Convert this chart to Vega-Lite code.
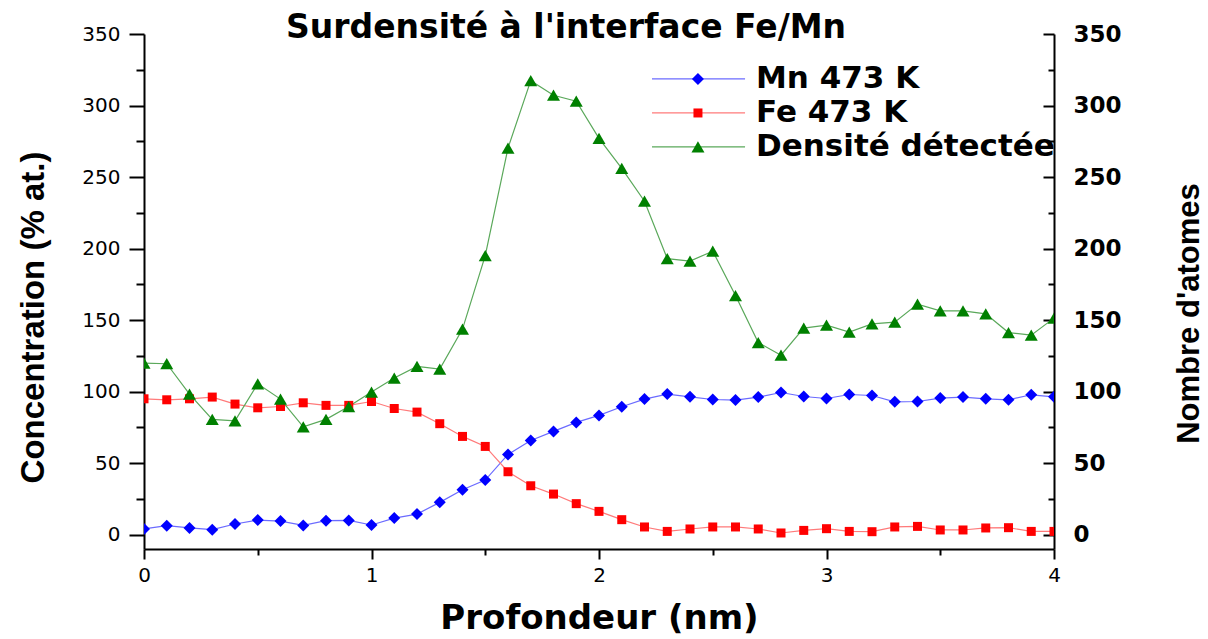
{
  "$schema": "https://vega.github.io/schema/vega-lite/v6.json",
  "width": 910,
  "height": 515,
  "autosize": {"type": "none"},
  "padding": {"left": 144, "top": 34, "right": 154, "bottom": 90},
  "background": "white",
  "title": {"text": "Surdensité à l'interface Fe/Mn", "font": "DejaVu Sans", "fontSize": 33, "fontWeight": "bold", "color": "#000", "anchor": "middle", "dx": -33, "baseline": "alphabetic", "offset": -48},
  "config": {
    "view": {"stroke": null},
    "axis": {"grid": false, "domainColor": "#000", "domainWidth": 2, "tickColor": "#000", "tickWidth": 2, "labelColor": "#000", "titleColor": "#000", "labelFlush": false}
  },
  "datasets": {
    "d": [
      {"x":0,"serie":"Mn 473 K","v":4.0},{"x":0.1,"serie":"Mn 473 K","v":6.3},{"x":0.2,"serie":"Mn 473 K","v":4.7},{"x":0.3,"serie":"Mn 473 K","v":3.5},{"x":0.4,"serie":"Mn 473 K","v":7.5},{"x":0.5,"serie":"Mn 473 K","v":10.2},{"x":0.6,"serie":"Mn 473 K","v":9.5},{"x":0.7,"serie":"Mn 473 K","v":6.5},{"x":0.8,"serie":"Mn 473 K","v":9.8},{"x":0.9,"serie":"Mn 473 K","v":10.0},{"x":1.0,"serie":"Mn 473 K","v":6.8},{"x":1.1,"serie":"Mn 473 K","v":11.6},{"x":1.2,"serie":"Mn 473 K","v":14.4},{"x":1.3,"serie":"Mn 473 K","v":22.6},{"x":1.4,"serie":"Mn 473 K","v":31.4},{"x":1.5,"serie":"Mn 473 K","v":38.2},{"x":1.6,"serie":"Mn 473 K","v":56.1},{"x":1.7,"serie":"Mn 473 K","v":65.9},{"x":1.8,"serie":"Mn 473 K","v":72.2},{"x":1.9,"serie":"Mn 473 K","v":78.5},{"x":2.0,"serie":"Mn 473 K","v":83.4},{"x":2.1,"serie":"Mn 473 K","v":89.4},{"x":2.2,"serie":"Mn 473 K","v":94.8},{"x":2.3,"serie":"Mn 473 K","v":98.3},{"x":2.4,"serie":"Mn 473 K","v":96.4},{"x":2.5,"serie":"Mn 473 K","v":94.5},{"x":2.6,"serie":"Mn 473 K","v":94.1},{"x":2.7,"serie":"Mn 473 K","v":96.2},{"x":2.8,"serie":"Mn 473 K","v":99.4},{"x":2.9,"serie":"Mn 473 K","v":96.6},{"x":3.0,"serie":"Mn 473 K","v":95.2},{"x":3.1,"serie":"Mn 473 K","v":98.0},{"x":3.2,"serie":"Mn 473 K","v":97.3},{"x":3.3,"serie":"Mn 473 K","v":92.9},{"x":3.4,"serie":"Mn 473 K","v":93.1},{"x":3.5,"serie":"Mn 473 K","v":95.5},{"x":3.6,"serie":"Mn 473 K","v":96.2},{"x":3.7,"serie":"Mn 473 K","v":95.0},{"x":3.8,"serie":"Mn 473 K","v":94.3},{"x":3.9,"serie":"Mn 473 K","v":97.8},{"x":4.0,"serie":"Mn 473 K","v":96.4},
      {"x":0,"serie":"Fe 473 K","v":95.0},{"x":0.1,"serie":"Fe 473 K","v":94.3},{"x":0.2,"serie":"Fe 473 K","v":95.0},{"x":0.3,"serie":"Fe 473 K","v":96.2},{"x":0.4,"serie":"Fe 473 K","v":91.3},{"x":0.5,"serie":"Fe 473 K","v":88.7},{"x":0.6,"serie":"Fe 473 K","v":89.6},{"x":0.7,"serie":"Fe 473 K","v":92.2},{"x":0.8,"serie":"Fe 473 K","v":90.4},{"x":0.9,"serie":"Fe 473 K","v":90.4},{"x":1.0,"serie":"Fe 473 K","v":93.1},{"x":1.1,"serie":"Fe 473 K","v":88.2},{"x":1.2,"serie":"Fe 473 K","v":85.7},{"x":1.3,"serie":"Fe 473 K","v":77.6},{"x":1.4,"serie":"Fe 473 K","v":68.7},{"x":1.5,"serie":"Fe 473 K","v":61.7},{"x":1.6,"serie":"Fe 473 K","v":44.0},{"x":1.7,"serie":"Fe 473 K","v":34.2},{"x":1.8,"serie":"Fe 473 K","v":28.4},{"x":1.9,"serie":"Fe 473 K","v":21.7},{"x":2.0,"serie":"Fe 473 K","v":16.3},{"x":2.1,"serie":"Fe 473 K","v":10.5},{"x":2.2,"serie":"Fe 473 K","v":5.4},{"x":2.3,"serie":"Fe 473 K","v":2.3},{"x":2.4,"serie":"Fe 473 K","v":4.0},{"x":2.5,"serie":"Fe 473 K","v":5.4},{"x":2.6,"serie":"Fe 473 K","v":5.4},{"x":2.7,"serie":"Fe 473 K","v":4.0},{"x":2.8,"serie":"Fe 473 K","v":1.2},{"x":2.9,"serie":"Fe 473 K","v":3.0},{"x":3.0,"serie":"Fe 473 K","v":4.2},{"x":3.1,"serie":"Fe 473 K","v":2.3},{"x":3.2,"serie":"Fe 473 K","v":2.1},{"x":3.3,"serie":"Fe 473 K","v":5.4},{"x":3.4,"serie":"Fe 473 K","v":5.8},{"x":3.5,"serie":"Fe 473 K","v":3.3},{"x":3.6,"serie":"Fe 473 K","v":3.3},{"x":3.7,"serie":"Fe 473 K","v":4.7},{"x":3.8,"serie":"Fe 473 K","v":4.9},{"x":3.9,"serie":"Fe 473 K","v":2.3},{"x":4.0,"serie":"Fe 473 K","v":2.3},
      {"x":0,"serie":"Densité détectée","v":120.0},{"x":0.1,"serie":"Densité détectée","v":119.5},{"x":0.2,"serie":"Densité détectée","v":98.3},{"x":0.3,"serie":"Densité détectée","v":80.6},{"x":0.4,"serie":"Densité détectée","v":79.6},{"x":0.5,"serie":"Densité détectée","v":105.5},{"x":0.6,"serie":"Densité détectée","v":94.8},{"x":0.7,"serie":"Densité détectée","v":75.4},{"x":0.8,"serie":"Densité détectée","v":80.6},{"x":0.9,"serie":"Densité détectée","v":89.6},{"x":1.0,"serie":"Densité détectée","v":99.7},{"x":1.1,"serie":"Densité détectée","v":109.5},{"x":1.2,"serie":"Densité détectée","v":117.6},{"x":1.3,"serie":"Densité détectée","v":115.8},{"x":1.4,"serie":"Densité détectée","v":143.7},{"x":1.5,"serie":"Densité détectée","v":195.1},{"x":1.6,"serie":"Densité détectée","v":270.2},{"x":1.7,"serie":"Densité détectée","v":317.4},{"x":1.8,"serie":"Densité détectée","v":307.2},{"x":1.9,"serie":"Densité détectée","v":303.0},{"x":2.0,"serie":"Densité détectée","v":277.1},{"x":2.1,"serie":"Densité détectée","v":256.0},{"x":2.2,"serie":"Densité détectée","v":233.1},{"x":2.3,"serie":"Densité détectée","v":193.0},{"x":2.4,"serie":"Densité détectée","v":191.2},{"x":2.5,"serie":"Densité détectée","v":198.2},{"x":2.6,"serie":"Densité détectée","v":167.2},{"x":2.7,"serie":"Densité détectée","v":134.3},{"x":2.8,"serie":"Densité détectée","v":125.5},{"x":2.9,"serie":"Densité détectée","v":144.4},{"x":3.0,"serie":"Densité détectée","v":146.5},{"x":3.1,"serie":"Densité détectée","v":141.6},{"x":3.2,"serie":"Densité détectée","v":147.4},{"x":3.3,"serie":"Densité détectée","v":148.6},{"x":3.4,"serie":"Densité détectée","v":161.2},{"x":3.5,"serie":"Densité détectée","v":156.5},{"x":3.6,"serie":"Densité détectée","v":156.5},{"x":3.7,"serie":"Densité détectée","v":154.4},{"x":3.8,"serie":"Densité détectée","v":141.3},{"x":3.9,"serie":"Densité détectée","v":139.5},{"x":4.0,"serie":"Densité détectée","v":151.4}
    ]
  },
  "data": {"name": "d"},
  "layer": [
    {
      "mark": {"type": "line", "strokeWidth": 1.2, "clip": true},
      "encoding": {
        "x": {"field": "x", "type": "quantitative", "scale": {"domain": [0, 4], "nice": false, "zero": false},
          "axis": {"orient": "bottom", "values": [0, 1, 2, 3, 4], "format": "d", "title": "Profondeur (nm)", "tickSize": 10, "labelFont": "DejaVu Sans", "labelFontSize": 20, "labelPadding": 6, "titleFont": "DejaVu Sans", "titleFontSize": 34, "titleFontWeight": "bold", "titleY": 79, "titleBaseline": "alphabetic"}},
        "y": {"field": "v", "type": "quantitative", "scale": {"domain": [-10, 350], "nice": false, "zero": false},
          "axis": {"orient": "left", "values": [0, 50, 100, 150, 200, 250, 300, 350], "title": "Concentration (% at.)", "tickSize": 15, "labelFont": "DejaVu Sans", "labelFontSize": 20, "labelPadding": 9, "titleFont": "Liberation Sans", "titleFontSize": 33, "titleFontWeight": "bold", "titleAngle": -90, "titleX": -101, "titleY": 283, "titleAlign": "center", "titleBaseline": "alphabetic"}},
        "stroke": {"field": "serie", "type": "nominal", "scale": {"domain": ["Mn 473 K", "Fe 473 K", "Densité détectée"], "range": ["#6b6bff", "#ff7a7a", "#5aa85a"]}, "legend": null}
      }
    },
    {
      "mark": {"type": "point", "opacity": 0},
      "encoding": {
        "x": {"field": "x", "type": "quantitative", "axis": {"orient": "bottom", "values": [0.5, 1.5, 2.5, 3.5], "labels": false, "domain": false, "tickSize": 6, "title": null}},
        "y": {"field": "v", "type": "quantitative", "axis": {"orient": "left", "values": [25, 75, 125, 175, 225, 275, 325], "labels": false, "domain": false, "tickSize": 8, "title": null}}
      }
    },
    {
      "mark": {"type": "point", "opacity": 0},
      "encoding": {
        "x": {"field": "x", "type": "quantitative", "axis": null},
        "y": {"field": "v", "type": "quantitative", "axis": {"orient": "right", "values": [25, 75, 125, 175, 225, 275, 325], "labels": false, "domain": false, "tickSize": -6, "title": null}}
      }
    },
    {
      "transform": [{"filter": {"field": "serie", "equal": "Mn 473 K"}}],
      "mark": {"type": "point", "shape": "diamond", "filled": true, "opacity": 1, "size": 144, "color": "#0000ff", "clip": true},
      "encoding": {
        "x": {"field": "x", "type": "quantitative", "axis": null},
        "y": {"field": "v", "type": "quantitative", "axis": null}
      }
    },
    {
      "transform": [{"filter": {"field": "serie", "equal": "Fe 473 K"}}],
      "mark": {"type": "point", "shape": "square", "filled": true, "opacity": 1, "size": 81, "color": "#ff0000", "clip": true},
      "encoding": {
        "x": {"field": "x", "type": "quantitative", "axis": null},
        "y": {"field": "v", "type": "quantitative", "axis": null}
      }
    },
    {
      "transform": [{"filter": {"field": "serie", "equal": "Densité détectée"}}],
      "mark": {"type": "point", "shape": "triangle-up", "filled": true, "opacity": 1, "size": 169, "color": "#008000", "clip": true},
      "encoding": {
        "x": {"field": "x", "type": "quantitative", "axis": null},
        "y": {"field": "v", "type": "quantitative",
          "axis": {"orient": "right", "values": [0, 50, 100, 150, 200, 250, 300, 350], "tickSize": -11, "labelPadding": 30, "labelFont": "DejaVu Sans", "labelFontWeight": "bold", "labelFontSize": 23, "title": "Nombre d'atomes", "titleFont": "Liberation Sans", "titleFontSize": 31, "titleFontWeight": "bold", "titleAngle": -90, "titleX": 144, "titleY": 279, "titleAlign": "center", "titleBaseline": "alphabetic"}}
      }
    },
    {
      "data": {"values": [{}]},
      "mark": {"type": "rule", "strokeWidth": 1.2, "color": "#6b6bff"},
      "encoding": {"x": {"datum": 2.233, "type": "quantitative", "axis": null}, "x2": {"datum": 2.642}, "y": {"datum": 318.6, "type": "quantitative", "axis": null}}
    },
    {
      "data": {"values": [{}]},
      "mark": {"type": "rule", "strokeWidth": 1.2, "color": "#ff7a7a"},
      "encoding": {"x": {"datum": 2.233, "type": "quantitative", "axis": null}, "x2": {"datum": 2.642}, "y": {"datum": 294.8, "type": "quantitative", "axis": null}}
    },
    {
      "data": {"values": [{}]},
      "mark": {"type": "rule", "strokeWidth": 1.2, "color": "#5aa85a"},
      "encoding": {"x": {"datum": 2.233, "type": "quantitative", "axis": null}, "x2": {"datum": 2.642}, "y": {"datum": 271.1, "type": "quantitative", "axis": null}}
    },
    {
      "data": {"values": [{}]},
      "mark": {"type": "point", "shape": "diamond", "filled": true, "opacity": 1, "size": 144, "color": "#0000ff"},
      "encoding": {"x": {"datum": 2.435, "type": "quantitative", "axis": null}, "y": {"datum": 318.6, "type": "quantitative", "axis": null}}
    },
    {
      "data": {"values": [{}]},
      "mark": {"type": "point", "shape": "square", "filled": true, "opacity": 1, "size": 81, "color": "#ff0000"},
      "encoding": {"x": {"datum": 2.435, "type": "quantitative", "axis": null}, "y": {"datum": 294.8, "type": "quantitative", "axis": null}}
    },
    {
      "data": {"values": [{}]},
      "mark": {"type": "point", "shape": "triangle-up", "filled": true, "opacity": 1, "size": 169, "color": "#008000"},
      "encoding": {"x": {"datum": 2.435, "type": "quantitative", "axis": null}, "y": {"datum": 271.1, "type": "quantitative", "axis": null}}
    },
    {
      "data": {"values": [{"label": "Mn 473 K"}]},
      "mark": {"type": "text", "font": "DejaVu Sans", "fontWeight": "bold", "fontSize": 31, "color": "#000", "align": "left", "baseline": "middle", "clip": true},
      "encoding": {"x": {"datum": 2.69, "type": "quantitative", "axis": null}, "y": {"datum": 318.6, "type": "quantitative", "axis": null}, "text": {"field": "label"}}
    },
    {
      "data": {"values": [{"label": "Fe 473 K"}]},
      "mark": {"type": "text", "font": "DejaVu Sans", "fontWeight": "bold", "fontSize": 31, "color": "#000", "align": "left", "baseline": "middle", "clip": true},
      "encoding": {"x": {"datum": 2.69, "type": "quantitative", "axis": null}, "y": {"datum": 294.8, "type": "quantitative", "axis": null}, "text": {"field": "label"}}
    },
    {
      "data": {"values": [{"label": "Densité détectée"}]},
      "mark": {"type": "text", "font": "DejaVu Sans", "fontWeight": "bold", "fontSize": 31, "color": "#000", "align": "left", "baseline": "middle", "clip": true},
      "encoding": {"x": {"datum": 2.69, "type": "quantitative", "axis": null}, "y": {"datum": 271.1, "type": "quantitative", "axis": null}, "text": {"field": "label"}}
    }
  ],
  "resolve": {"axis": {"x": "independent", "y": "independent"}}
}
